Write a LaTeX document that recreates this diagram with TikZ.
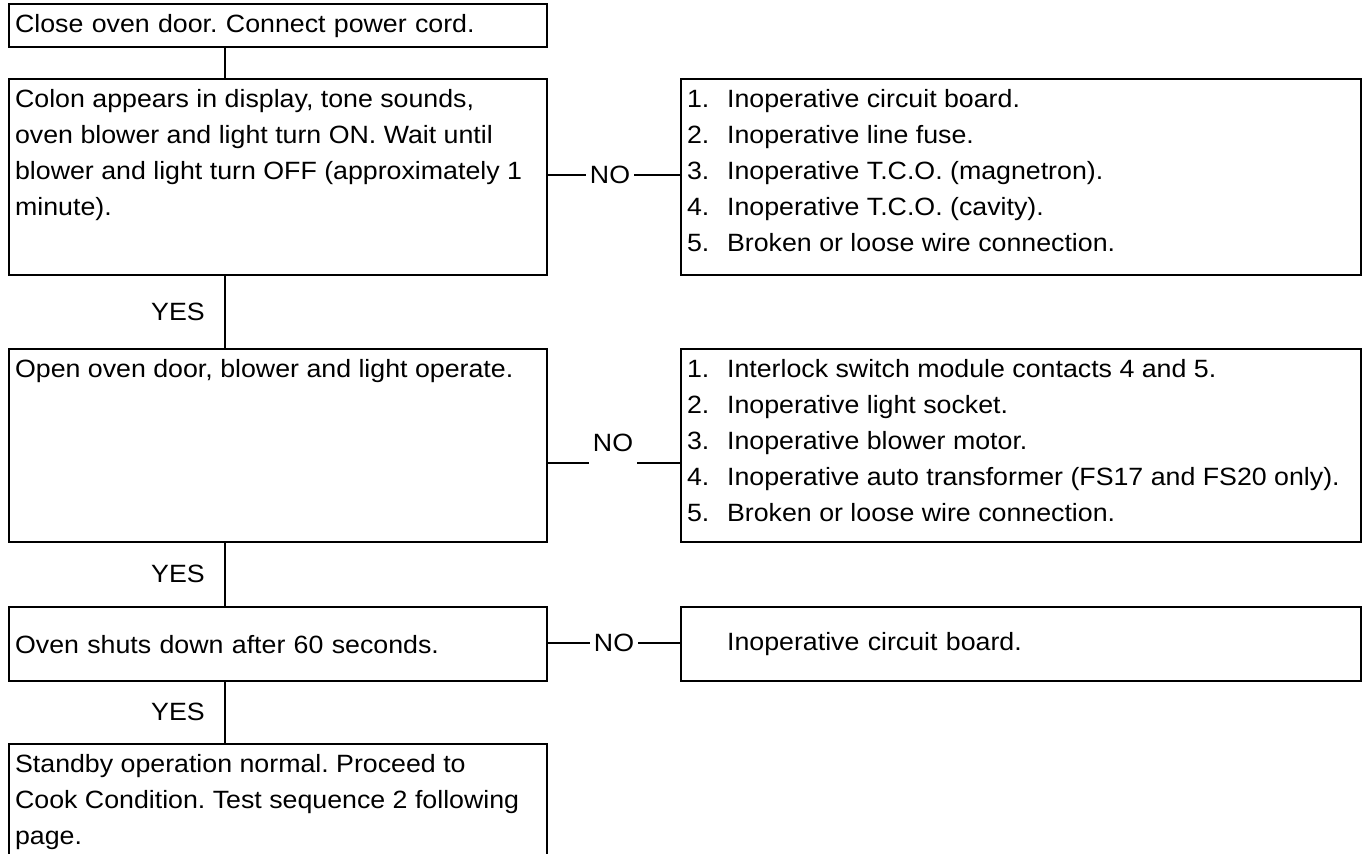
\documentclass[tikz,border=0pt]{standalone}
\usepackage{fontspec}
\setmainfont[FakeStretch=1.07]{Liberation Sans}
\usetikzlibrary{positioning}
\frenchspacing

% text of a tall box, set from its top edge
\newcommand{\boxtext}[3]{\parbox[t][#2][t]{#1}{\raggedright #3}}
\newcommand{\itm}[2]{\makebox[20pt][l]{#1.}#2}

\begin{document}
\begin{tikzpicture}[x=0.5pt, y=-0.5pt,
    font=\fontsize{12.5}{18}\selectfont,
    box/.style={rectangle, draw, line width=1.1pt, anchor=north west,
                inner xsep=3pt, inner ysep=5pt, align=left},
    onebox/.style={box, text width=#1, minimum height=37pt},
    conn/.style={line width=0.65pt},
    lbl/.style={inner sep=2pt}]
    \useasboundingbox (0,0) rectangle (1367,854);
    \clip (0,0) rectangle (1367,854);

    % left column: test steps
    \node[onebox=263pt, minimum height=19pt] (start) at (8,3)
        {Close oven door. Connect power cord.};
    \node[box] (colon) at (8,78) {\boxtext{263pt}{88pt}{%
        Colon appears in display, tone sounds,\\
        oven blower and light turn ON. Wait until\\
        blower and light turn OFF (approximately 1\\
        minute).}};
    \node[box] (door) at (8,348) {\boxtext{263pt}{86.5pt}{%
        Open oven door, blower and light operate.}};
    \node[onebox=263pt] (shut) at (8,606) {Oven shuts down after 60 seconds.};
    \node[box] (standby) at (8,743) {\boxtext{263pt}{75pt}{%
        Standby operation normal. Proceed to\\
        Cook Condition. Test sequence 2 following\\
        page.}};

    % right column: possible causes
    \node[box] (causeA) at (680,78) {\boxtext{334pt}{88pt}{%
        \itm{1}{Inoperative circuit board.}\\
        \itm{2}{Inoperative line fuse.}\\
        \itm{3}{Inoperative T.C.O. (magnetron).}\\
        \itm{4}{Inoperative T.C.O. (cavity).}\\
        \itm{5}{Broken or loose wire connection.}}};
    \node[box] (causeB) at (680,348) {\boxtext{334pt}{86.5pt}{%
        \itm{1}{Interlock switch module contacts 4 and 5.}\\
        \itm{2}{Inoperative light socket.}\\
        \itm{3}{Inoperative blower motor.}\\
        \itm{4}{Inoperative auto transformer (FS17 and FS20 only).}\\
        \itm{5}{Broken or loose wire connection.}}};
    \node[onebox=334pt] (causeC) at (680,606)
        {\hspace*{20pt}Inoperative circuit board.};

    % YES branch
    \coordinate (spine) at (225,0);
    \draw[conn] (start.south -| spine) -- (colon.north -| spine);
    \draw[conn] (colon.south -| spine) -- (door.north -| spine);
    \draw[conn] (door.south -| spine) -- (shut.north -| spine);
    \draw[conn] (shut.south -| spine) -- (standby.north -| spine);
    \node[lbl] (yes1) at (178,312) {YES};
    \node[lbl] (yes2) at (178,574) {YES};
    \node[lbl] (yes3) at (178,712) {YES};

    % NO branches
    \node[lbl] (no1) at (610,175) {NO};
    \draw[conn] (colon.east |- no1) -- (no1.west);
    \draw[conn] (no1.east) -- (causeA.west |- no1);

    \node[lbl] (no2) at (613,443) {NO};
    \coordinate (j2) at (613,463);
    \draw[conn] (door.east |- j2) -- (j2 -| no2.west);
    \draw[conn] (j2 -| no2.east) -- (causeB.west |- j2);

    \node[lbl] (no3) at (614,643) {NO};
    \draw[conn] (shut.east |- no3) -- (no3.west);
    \draw[conn] (no3.east) -- (causeC.west |- no3);
\end{tikzpicture}
\end{document}
